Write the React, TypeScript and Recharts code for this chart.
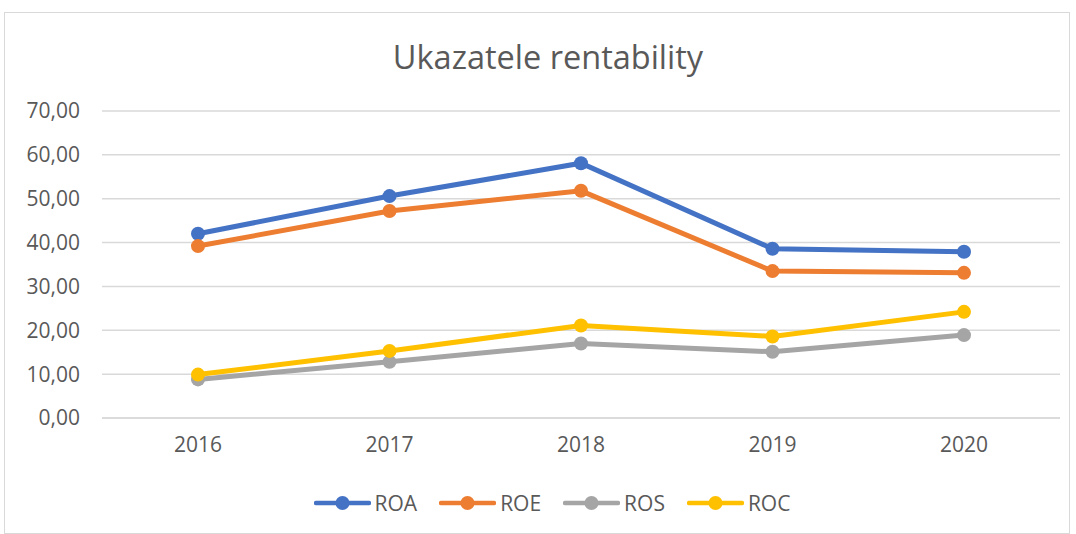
import { LineChart, Line, XAxis, YAxis, CartesianGrid } from 'recharts';

const years = ['2016', '2017', '2018', '2019', '2020'];
const roa = [42.0, 50.6, 58.1, 38.6, 37.9];
const roe = [39.2, 47.2, 51.8, 33.5, 33.1];
const ros = [8.8, 12.8, 17.0, 15.1, 18.9];
const roc = [9.9, 15.3, 21.1, 18.6, 24.2];
const yTicks = [0, 10, 20, 30, 40, 50, 60, 70];

const SERIES = [
  { key: 'ROA', color: '#4472C4' },
  { key: 'ROE', color: '#ED7D31' },
  { key: 'ROS', color: '#A5A5A5' },
  { key: 'ROC', color: '#FFC000' },
];

const data = years.map((year, i) => ({
  year,
  ROA: roa[i],
  ROE: roe[i],
  ROS: ros[i],
  ROC: roc[i],
}));

const FONT = '"Open Sans", "Liberation Sans", sans-serif';
const TEXT = '#595959';

function LegendRow() {
  return (
    <div style={{ display: 'flex', justifyContent: 'center', gap: 22, fontFamily: FONT, fontSize: 21, color: TEXT }}>
      {SERIES.map(s => (
        <div key={s.key} style={{ display: 'flex', alignItems: 'center', gap: 4 }}>
          <svg width={57} height={16}>
            <line x1={2} y1={8} x2={55} y2={8} stroke={s.color} strokeWidth={4.5} strokeLinecap="round" />
            <circle cx={28.5} cy={8} r={7} fill={s.color} />
          </svg>
          <span>{s.key}</span>
        </div>
      ))}
    </div>
  );
}

export default function App() {
  return (
    <div style={{ position: 'absolute', left: 0, top: 0, width: 1076, height: 534, background: '#fff' }}>
      <div style={{ position: 'absolute', left: 4, top: 12, width: 1066, height: 522, border: '1px solid #d9d9d9', boxSizing: 'border-box' }} />
      <div style={{ position: 'absolute', left: 10, top: 34, width: 1076, textAlign: 'center', fontFamily: FONT, fontSize: 32.5, color: TEXT }}>
        Ukazatele rentability
      </div>
      <div style={{ position: 'absolute', left: 0, top: 0 }}>
        <LineChart width={1076} height={534} data={data} margin={{ top: 111, right: 16, left: 0, bottom: 0 }}>
          <CartesianGrid vertical={false} stroke="#d9d9d9" strokeWidth={1.5} />
          <XAxis
            dataKey="year"
            tickLine={false}
            axisLine={{ stroke: '#d9d9d9', strokeWidth: 1.5 }}
            tick={{ fill: TEXT, fontSize: 21, fontFamily: FONT }}
            tickSize={0}
            tickMargin={19}
            height={116}
            padding={{ left: 96, right: 96 }}
          />
          <YAxis
            domain={[0, 70]}
            ticks={yTicks}
            interval={0}
            width={102}
            tickLine={false}
            axisLine={false}
            tickSize={0}
            tickMargin={22}
            tick={{ fill: TEXT, fontSize: 21, fontFamily: FONT }}
            tickFormatter={(v: number) => v.toFixed(2).replace('.', ',')}
          />
          {SERIES.map(s => (
            <Line
              key={s.key}
              type="linear"
              dataKey={s.key}
              stroke={s.color}
              strokeWidth={5}
              dot={{ r: 7, fill: s.color, stroke: s.color, strokeWidth: 0 }}
              activeDot={false}
              isAnimationActive={false}
            />
          ))}
        </LineChart>
      </div>
      <div style={{ position: 'absolute', left: 14, top: 489, width: 1076 }}>
        <LegendRow />
      </div>
    </div>
  );
}
